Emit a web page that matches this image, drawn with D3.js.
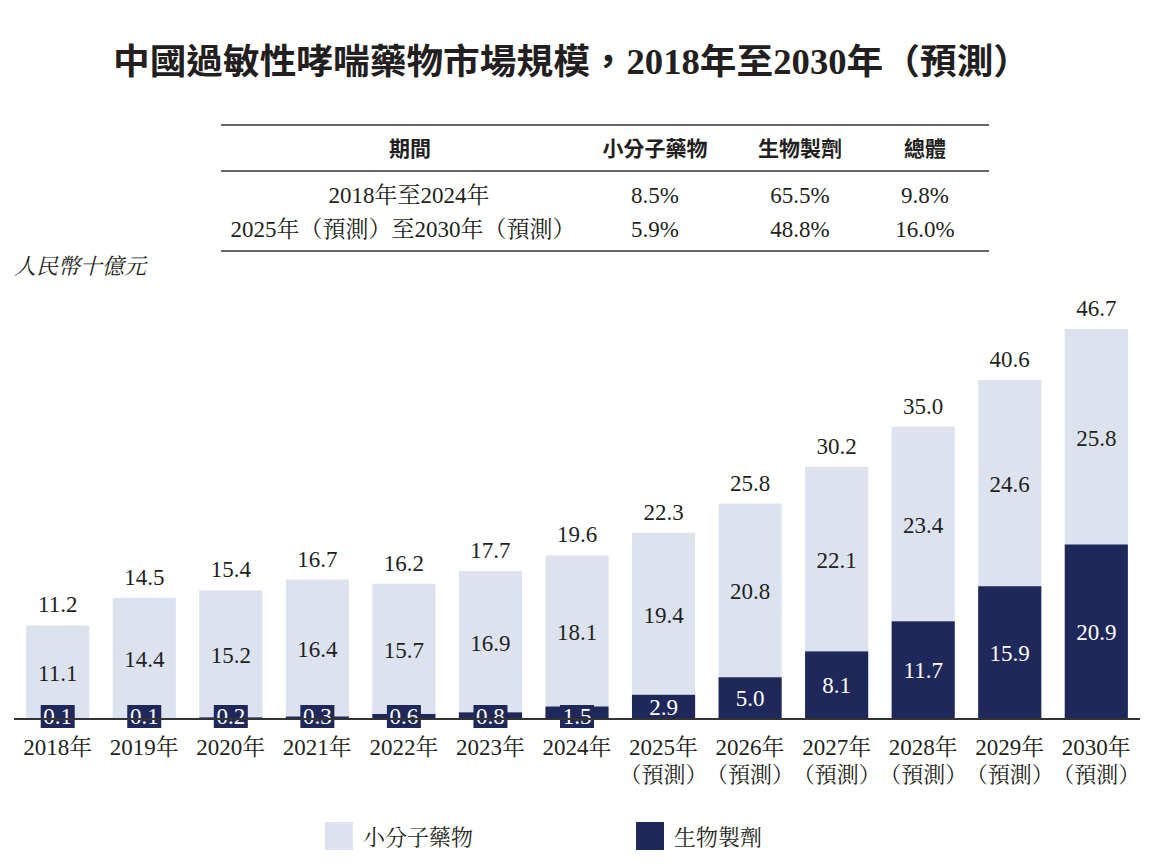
<!DOCTYPE html>
<html><head><meta charset="utf-8">
<script src="https://cdn.jsdelivr.net/npm/d3@7"></script>
<style>
body{margin:0;background:#fff;}
svg{display:block;}
</style></head>
<body>
<svg id="c" width="1150" height="864"></svg>
<script>
const years = ["2018年","2019年","2020年","2021年","2022年","2023年","2024年","2025年","2026年","2027年","2028年","2029年","2030年"];
const forecast = [false,false,false,false,false,false,false,true,true,true,true,true,true];
const smallMolecule = [11.1,14.4,15.2,16.4,15.7,16.9,18.1,19.4,20.8,22.1,23.4,24.6,25.8];
const biologics = [0.1,0.1,0.2,0.3,0.6,0.8,1.5,2.9,5.0,8.1,11.7,15.9,20.9];
const totals = [11.2,14.5,15.4,16.7,16.2,17.7,19.6,22.3,25.8,30.2,35.0,40.6,46.7];
const tableHeader = ["期間","小分子藥物","生物製劑","總體"];
const tableRows = [
  ["2018年至2024年","8.5%","65.5%","9.8%"],
  ["2025年（預測）至2030年（預測）","5.9%","48.8%","16.0%"]
];
const seriesNames = ["小分子藥物","生物製劑"];

const LIGHT="#dce3ee", DARK="#1f285a", TXT="#231f20";
const SERIF="'Liberation Serif','Times New Roman',serif";
const CJK="'Noto Sans CJK TC','Noto Sans CJK SC',sans-serif";
const MING="'Liberation Serif','Noto Serif CJK TC',serif";
const TITLE="'Liberation Serif','Noto Sans CJK TC',serif";

const svg=d3.select("#c");

// Title
svg.append("text").attr("x",113).attr("y",74)
  .attr("font-family",TITLE).attr("font-weight","bold").attr("font-size",35).attr("fill",TXT)
  .attr("textLength",917).attr("lengthAdjust","spacingAndGlyphs")
  .text("中國過敏性哮喘藥物市場規模，2018年至2030年（預測）");

// Table
const tx0=221, tx1=989;
[125,171,251].forEach(y=>svg.append("line").attr("x1",tx0).attr("x2",tx1).attr("y1",y).attr("y2",y)
  .attr("stroke","#333").attr("stroke-width",1.6));
const colX=[410,655,800,925];
tableHeader.forEach((h,i)=>svg.append("text").attr("x",colX[i]).attr("y",156).attr("text-anchor","middle")
  .attr("font-family",CJK).attr("font-weight","bold").attr("font-size",21).attr("fill",TXT).text(h));
tableRows.forEach((r,ri)=>r.forEach((v,i)=>svg.append("text").attr("x",i==0?(ri==0?409:403):colX[i]).attr("y",203+ri*34)
  .attr("text-anchor","middle").attr("font-family",MING).attr("font-size",23).attr("fill",TXT).text(v)));

// Unit
svg.append("text").attr("x",14).attr("y",274).attr("font-family",MING).attr("font-style","italic")
  .attr("font-size",22).attr("fill",TXT).text("人民幣十億元");

// Scales
const x=d3.scaleBand().domain(years).range([14,1140]).paddingInner(0.27).paddingOuter(0.14);
const baseY=719;
const y=d3.scaleLinear().domain([0,46.7]).range([baseY,329]);

const g=svg.append("g");
years.forEach((yr,i)=>{
  const bx=x(yr), bw=x.bandwidth(), cx=bx+bw/2;
  const b=biologics[i], s=smallMolecule[i], t=totals[i];
  g.append("rect").attr("x",bx).attr("width",bw).attr("y",y(t)).attr("height",y(b)-y(t)).attr("fill",LIGHT);
  g.append("rect").attr("x",bx).attr("width",bw).attr("y",y(b)).attr("height",baseY-y(b)).attr("fill",DARK);
  g.append("text").attr("x",cx).attr("y",y(t)-13).attr("text-anchor","middle").attr("font-family",SERIF)
    .attr("font-size",23).attr("fill",TXT).text(t.toFixed(1));
  g.append("text").attr("x",cx).attr("y",(y(t)+y(b))/2+9).attr("text-anchor","middle").attr("font-family",SERIF)
    .attr("font-size",23).attr("fill",TXT).text(s.toFixed(1));
  if(b<2){
    g.append("rect").attr("x",cx-17).attr("y",705).attr("width",34).attr("height",23).attr("fill",DARK);
    g.append("text").attr("x",cx).attr("y",724).attr("text-anchor","middle").attr("font-family",SERIF)
      .attr("font-size",23).attr("fill","#fff").text(b.toFixed(1));
  } else {
    g.append("text").attr("x",cx).attr("y",Math.min((y(b)+baseY)/2+8,baseY-2)).attr("text-anchor","middle").attr("font-family",SERIF)
      .attr("font-size",23).attr("fill","#fff").text(b.toFixed(1));
  }
});

// Axis
const ax=svg.append("g").attr("transform",`translate(0,${baseY})`)
  .call(d3.axisBottom(x).tickSize(0).tickPadding(0).tickFormat(()=>""));
ax.select(".domain").attr("stroke","#333").attr("stroke-width",2).attr("d","M14,0H1140");
ax.selectAll(".tick text").remove();
ax.selectAll(".tick").each(function(d,i){
  const t=d3.select(this);
  t.append("text").attr("y",36).attr("text-anchor","middle").attr("font-family",MING).attr("font-size",23)
    .attr("fill",TXT).text(d);
  if(forecast[i]) t.append("text").attr("y",63).attr("text-anchor","middle").attr("font-family",MING).attr("font-size",22)
    .attr("fill",TXT).text("（預測）");
});

// Legend
const leg=[{x:325,c:LIGHT},{x:636,c:DARK}];
seriesNames.forEach((n,i)=>{
  svg.append("rect").attr("x",leg[i].x).attr("y",822).attr("width",28).attr("height",28).attr("fill",leg[i].c);
  svg.append("text").attr("x",leg[i].x+38).attr("y",845).attr("font-family",MING).attr("font-size",22)
    .attr("fill",TXT).text(n);
});
</script>
</body></html>
